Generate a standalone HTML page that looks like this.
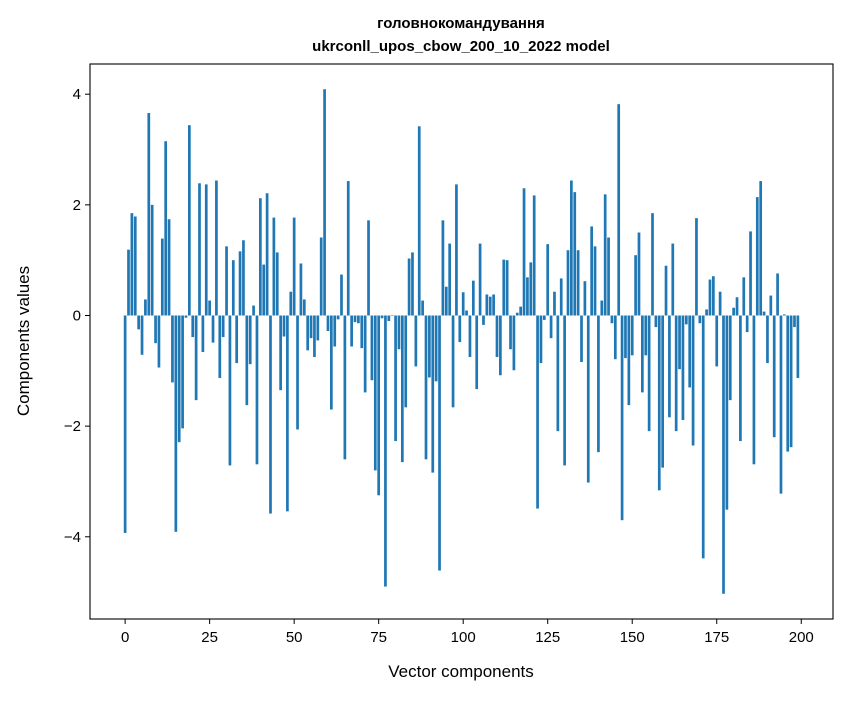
<!DOCTYPE html>
<html><head><meta charset="utf-8"><style>
body{margin:0;background:#fff;}
svg text{font-family:"Liberation Sans","DejaVu Sans",sans-serif;}
</style></head><body>
<svg id="chart" width="847" height="696" xmlns="http://www.w3.org/2000/svg">
<rect width="847" height="696" fill="#fff"/>
<text x="461" y="28" text-anchor="middle" font-size="15" font-weight="bold">головнокомандування</text>
<text x="461" y="51" text-anchor="middle" font-size="15" font-weight="bold">ukrconll_upos_cbow_200_10_2022 model</text>
<g id="bars"></g>
<g id="axes"></g>
<text x="461" y="677" text-anchor="middle" font-size="17">Vector components</text>
<text transform="translate(29,341) rotate(-90)" text-anchor="middle" font-size="17">Components values</text>
</svg>
<script>
const values = [-3.93,1.19,1.85,1.79,-0.25,-0.71,0.29,3.66,2.0,-0.5,-0.94,1.39,3.15,1.74,-1.21,-3.91,-2.29,-2.04,-0.04,3.44,-0.39,-1.53,2.39,-0.66,2.37,
0.27,-0.49,2.44,-1.13,-0.39,1.25,-2.71,1.0,-0.86,1.16,1.36,-1.62,-0.88,0.18,-2.69,2.12,0.92,2.21,-3.58,1.77,1.14,-1.35,-0.38,-3.54,0.43,
1.77,-2.06,0.94,0.29,-0.63,-0.41,-0.75,-0.45,1.41,4.09,-0.28,-1.70,-0.56,-0.07,0.74,-2.60,2.43,-0.56,-0.12,-0.14,-0.59,-1.39,1.72,-1.17,-2.80,
-3.25,-0.05,-4.90,-0.10,-0.01,-2.27,-0.61,-2.65,-1.66,1.03,1.14,-0.92,3.42,0.27,-2.60,-1.12,-2.84,-1.19,-4.61,1.72,0.52,1.30,-1.66,2.37,-0.48,
0.42,0.09,-0.75,0.63,-1.33,1.30,-0.17,0.38,0.34,0.38,-0.75,-1.08,1.01,1.0,-0.61,-0.99,0.05,0.16,2.30,0.69,0.96,2.17,-3.49,-0.86,-0.08,
1.29,-0.41,0.43,-2.09,0.67,-2.71,1.18,2.44,2.23,1.18,-0.84,0.62,-3.02,1.61,1.25,-2.47,0.27,2.19,1.41,-0.14,-0.79,3.82,-3.70,-0.77,-1.62,
-0.72,1.09,1.50,-1.39,-0.72,-2.09,1.85,-0.21,-3.16,-2.75,0.90,-1.84,1.30,-2.09,-0.97,-1.89,-0.16,-1.30,-2.35,1.76,-0.14,-4.39,0.11,0.65,0.71,
-0.92,0.43,-5.03,-3.51,-1.53,0.14,0.33,-2.27,0.69,-0.30,1.52,-2.69,2.14,2.43,0.07,-0.86,0.36,-2.20,0.76,-3.22,0.02,-2.46,-2.38,-0.21,-1.13];
const xTicks = [0,25,50,75,100,125,150,175,200];
const yTicks = [-4,-2,0,2,4];
const yTickLabels = ["\u22124","\u22122","0","2","4"];

const L=90,R=833,T=64,B=619;
const n=values.length;
const xMin=-0.4-0.05*(n-0.2), xMax=(n-1)+0.4+0.05*(n-0.2);
let vmin=Math.min(0,...values), vmax=Math.max(0,...values);
const pad=(vmax-vmin)*0.05;
const yMin=vmin-pad, yMax=vmax+pad;
const xs=v=>L+(v-xMin)/(xMax-xMin)*(R-L);
const ys=v=>B-(v-yMin)/(yMax-yMin)*(B-T);
const NS="http://www.w3.org/2000/svg";
const bars=document.getElementById('bars');
values.forEach((v,i)=>{
  const r=document.createElementNS(NS,'rect');
  const x0=xs(i-0.4), x1=xs(i+0.4);
  const y0=ys(Math.max(v,0)), y1=ys(Math.min(v,0));
  r.setAttribute('x',x0);r.setAttribute('width',x1-x0);
  r.setAttribute('y',y0);r.setAttribute('height',Math.max(y1-y0,0.3));
  r.setAttribute('fill','#1f77b4');
  
  
  bars.appendChild(r);
});
const axes=document.getElementById('axes');
const frame=document.createElementNS(NS,'rect');
frame.setAttribute('x',L);frame.setAttribute('y',T);frame.setAttribute('width',R-L);frame.setAttribute('height',B-T);
frame.setAttribute('fill','none');frame.setAttribute('stroke','#000');frame.setAttribute('stroke-width','1.1');


axes.appendChild(frame);
xTicks.forEach(t=>{
  const x=xs(t);
  const l=document.createElementNS(NS,'line');
  l.setAttribute('x1',x);l.setAttribute('x2',x);l.setAttribute('y1',B);l.setAttribute('y2',B+5);l.setAttribute('stroke','#000');
  
  
  axes.appendChild(l);
  const tx=document.createElementNS(NS,'text');
  tx.setAttribute('x',x);tx.setAttribute('y',B+23);tx.setAttribute('text-anchor','middle');tx.setAttribute('font-size','15');
  tx.textContent=t;
  
  
  axes.appendChild(tx);
});
yTicks.forEach((t,k)=>{
  const y=ys(t);
  const l=document.createElementNS(NS,'line');
  l.setAttribute('x1',L-5);l.setAttribute('x2',L);l.setAttribute('y1',y);l.setAttribute('y2',y);l.setAttribute('stroke','#000');
  
  
  axes.appendChild(l);
  const tx=document.createElementNS(NS,'text');
  tx.setAttribute('x',L-9);tx.setAttribute('y',y+5);tx.setAttribute('text-anchor','end');tx.setAttribute('font-size','15');
  tx.textContent=yTickLabels[k];
  
  
  axes.appendChild(tx);
});
</script>
</body></html>
